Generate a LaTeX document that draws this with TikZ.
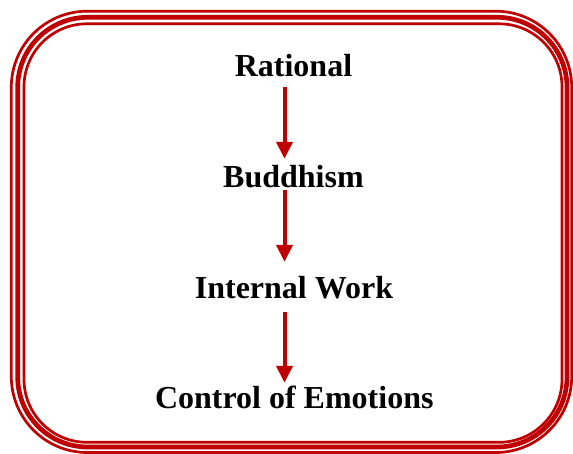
\documentclass[tikz,border=0pt]{standalone}
\usepackage{fontspec}
\setmainfont{Liberation Serif}
\usetikzlibrary{arrows.meta}
\definecolor{frame}{HTML}{C00000}

\begin{document}
\begin{tikzpicture}[x=1pt,y=-1pt,
  stage/.style={font=\bfseries\fontsize{32}{32}\selectfont,inner sep=0pt,text height=21pt,text depth=0pt,anchor=base},
  flow/.style={draw=frame,line width=4pt,-{Triangle[width=16pt,length=17pt]}}]
 \useasboundingbox (0,0) rectangle (573,454);
 % triple frame, thin - thick - thin
 \draw[frame,line width=2.7pt,rounded corners=76pt](11.3,11.2) rectangle (571.7,452.5);
 \draw[frame,line width=4.7pt,rounded corners=70pt](17.7,17.3) rectangle (567,447);
 \draw[frame,line width=2.7pt,rounded corners=63pt](24,23.8) rectangle (562,442.3);
 % the four stages
 \node[stage] (rat) at (293.5,76.7) {Rational};
 \node[stage] (bud) at (293.5,187.3) {Buddhism};
 \node[stage] (int) at (294,298.3) {Internal Work};
 \node[stage] (ctl) at (294.3,408.3) {Control of Emotions};
 \draw[flow,shorten <=10pt,shorten >=7.3pt]([xshift=-9pt]rat.south)--([xshift=-9pt]bud.north);
 \draw[flow,shorten <=2.7pt,shorten >=15.3pt]([xshift=-9pt]bud.south)--([xshift=-9.5pt]int.north);
 \draw[flow,shorten <=13.4pt,shorten >=4.3pt]([xshift=-9.5pt]int.south)--([xshift=-9.8pt]ctl.north);
\end{tikzpicture}
\end{document}
